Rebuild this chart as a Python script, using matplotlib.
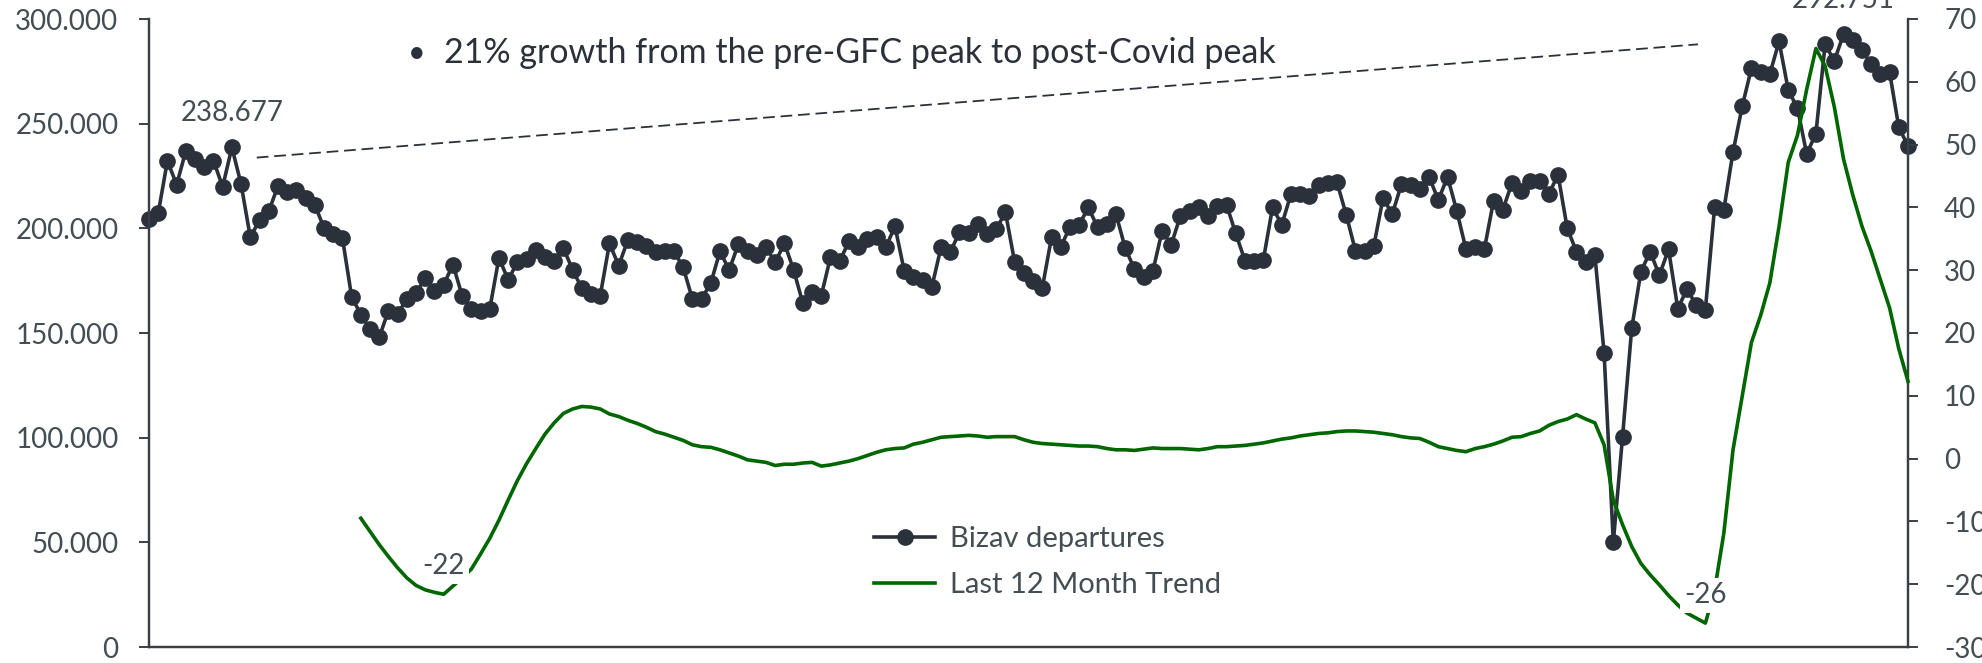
import matplotlib
matplotlib.use("Agg")
import matplotlib.pyplot as plt
from matplotlib.lines import Line2D

plt.rcParams['font.family'] = ['Lato', 'DejaVu Sans']

# ---------------- data ----------------
departures = [
    204400, 207200, 232300, 220800, 237000, 233100, 229100, 232300, 219900, 238677,
    221100, 195700, 204000, 208100, 220200, 217200, 218300, 214500, 211300, 200200,
    197300, 195400, 167400, 158800, 152000, 148000, 160700, 159100, 166300, 169000,
    176300, 170300, 173100, 182700, 167900, 161500, 160700, 161500, 185900, 175400,
    183800, 185400, 189700, 186200, 184600, 190600, 180100, 171400, 168700, 167900,
    192800, 182200, 194400, 193300, 191700, 188600, 189300, 189000, 181400, 166300,
    166300, 173800, 189000, 180100, 192500, 189300, 187400, 190900, 183800, 192800,
    180100, 164200, 169500, 167900, 186200, 184300, 193800, 190900, 194900, 195700,
    190900, 201000, 179800, 176900, 175400, 171900, 190900, 188600, 198100, 197600,
    202100, 197300, 199700, 207600, 183800, 178500, 174700, 171500, 195700, 191300,
    200500, 201700, 210000, 200500, 202100, 206800, 190600, 180600, 176900, 179500,
    198600, 192200, 206000, 208400, 210300, 206000, 210800, 211300, 197600, 184600,
    184600, 184900, 210000, 201700, 216400, 216400, 215600, 220800, 221500, 221900,
    206500, 189300, 189000, 191700, 214500, 206800, 221100, 220800, 218800, 224600,
    213500, 224600, 208400, 190100, 190900, 190100, 213200, 208800, 221700, 217700,
    222400, 222400, 216400, 225600, 200000, 188900, 184100, 187100, 140500, 50000,
    100200, 152300, 179300, 188900, 177600, 189900, 161700, 170900, 163400, 161200,
    210000, 208800, 236500, 258300, 276500, 274500, 273800, 289300, 266000, 257400,
    235500, 245300, 287900, 280000, 292751, 289800, 285100, 278700, 273900, 274700,
    248200, 239400,
]

trend_start = 23
trend = [
    -9.5, -11.6, -13.7, -15.6, -17.4, -19.0, -20.2, -20.9, -21.3, -21.6,
    -20.3, -19.0, -17.6, -15.2, -12.7, -9.8, -6.6, -3.5, -0.8, 1.6,
    3.9, 5.7, 7.2, 7.9, 8.3, 8.2, 7.9, 7.1, 6.7, 6.1,
    5.6, 5.0, 4.3, 3.9, 3.4, 2.9, 2.2, 1.9, 1.8, 1.4,
    0.9, 0.4, -0.2, -0.4, -0.6, -1.1, -0.9, -0.9, -0.7, -0.6,
    -1.2, -1.0, -0.7, -0.4, 0.0, 0.5, 1.0, 1.4, 1.6, 1.7,
    2.3, 2.6, 3.0, 3.4, 3.5, 3.6, 3.7, 3.6, 3.4, 3.5,
    3.5, 3.5, 3.0, 2.6, 2.4, 2.3, 2.2, 2.1, 2.0, 2.0,
    1.9, 1.6, 1.4, 1.4, 1.3, 1.5, 1.7, 1.6, 1.6, 1.6,
    1.5, 1.4, 1.6, 1.9, 1.9, 2.0, 2.1, 2.3, 2.5, 2.8,
    3.1, 3.3, 3.6, 3.8, 4.0, 4.1, 4.3, 4.4, 4.4, 4.3,
    4.2, 4.0, 3.8, 3.5, 3.3, 3.2, 2.6, 1.9, 1.6, 1.3,
    1.1, 1.6, 1.9, 2.3, 2.8, 3.4, 3.5, 4.0, 4.4, 5.3,
    5.9, 6.3, 7.0, 6.3, 5.7, 2.2, -6.6, -10.5, -14.0, -16.7,
    -18.5, -20.1, -21.8, -23.3, -24.6, -25.4, -26.2, -21.0, -11.9, 1.4,
    10.0, 18.5, 22.8, 28.0, 37.0, 47.2, 51.5, 58.8, 65.3, 62.5,
    56.0, 47.7, 42.0, 37.0, 33.0, 28.5, 24.0, 17.5, 12.3,
]

series_names = ["Bizav departures", "Last 12 Month Trend"]
left_ticks = [0, 50000, 100000, 150000, 200000, 250000, 300000]
right_ticks = [-30, -20, -10, 0, 10, 20, 30, 40, 50, 60, 70]
note_text = "21% growth from the pre-GFC peak to post-Covid peak"

# ---------------- style ----------------
DARK = "#2B313A"
GREEN = "#006600"
TXT = "#434D54"
FS = 20

months = list(range(len(departures)))
trend_x = list(range(trend_start, trend_start + len(trend)))


def thousands(v, _=None):
    return f"{int(round(v)):,}".replace(",", ".")


fig = plt.figure(figsize=(19.83, 6.63), dpi=100)
W, H = 1983, 663
x0, x1, ytop, ybot = 149, 1908, 19, 647
ax = fig.add_axes([x0 / W, 1 - ybot / H, (x1 - x0) / W, (ybot - ytop) / H])
ax2 = ax.twinx()

ax.plot(months, departures, color=DARK, lw=2.6, marker="o", ms=11,
        clip_on=False, zorder=3)
ax2.plot(trend_x, trend, color=GREEN, lw=2.6, clip_on=False, zorder=3)

ax.set_xlim(0, len(departures) - 1)
ax.set_ylim(left_ticks[0], left_ticks[-1])
ax2.set_ylim(right_ticks[0], right_ticks[-1])
ax.set_yticks(left_ticks)
ax.set_yticklabels([thousands(v) for v in left_ticks])
ax2.set_yticks(right_ticks)
ax2.set_yticklabels([str(v) for v in right_ticks])
ax.set_xticks([])

for a, pad in ((ax, 15), (ax2, 19)):
    a.spines["top"].set_visible(False)
    for s in ("left", "right", "bottom"):
        a.spines[s].set_color("#3A3F45")
        a.spines[s].set_linewidth(1.6)
    a.tick_params(axis="y", length=7, width=1.4, color="#3A3F45",
                  labelsize=FS, labelcolor=TXT, pad=pad)

# peak labels
i_pre = departures.index(max(departures[:30]))
i_post = departures.index(max(departures))
for i in (i_pre, i_post):
    ax.annotate(thousands(departures[i]), xy=(i, departures[i]),
                xytext=(0, 19), textcoords="offset points", ha="center",
                va="baseline", fontsize=FS, color=TXT, annotation_clip=False)

# trend troughs
mid = 100 - trend_start
t1 = trend.index(min(trend[:mid]))
t2 = mid + trend[mid:].index(min(trend[mid:]))
for t in (t1, t2):
    ax2.annotate(f"{round(trend[t])}", xy=(trend_x[t], trend[t]),
                 xytext=(0, 20), textcoords="offset points", ha="center",
                 va="center", fontsize=FS, color=TXT, zorder=5,
                 bbox=dict(boxstyle="square,pad=0.15", fc="white", ec="none"))

# dashed growth line
ax.plot([11.7, 168.2], [233800, 287900], color=DARK, lw=1.3,
        ls=(0, (6.5, 3.2)), zorder=2)

# note text
fig.text(408 / W, 1 - 53 / H, "\u2022", fontsize=22, color=DARK,
         ha="left", va="center")
fig.text(444 / W, 1 - 53 / H, note_text, fontsize=24.5, color=DARK,
         ha="left", va="center")

handles = [Line2D([], [], color=DARK, lw=2.6, marker="o", ms=11),
           Line2D([], [], color=GREEN, lw=2.6)]
ax2.legend(handles, series_names, loc="upper left", frameon=False,
           bbox_to_anchor=(874 / W, 1 - 526 / H), bbox_transform=fig.transFigure,
           fontsize=21, labelcolor=TXT, handlelength=2.1, handletextpad=0.5,
           labelspacing=0.7, borderpad=0, borderaxespad=0)

fig.savefig("out.png", dpi=100, facecolor="white")
